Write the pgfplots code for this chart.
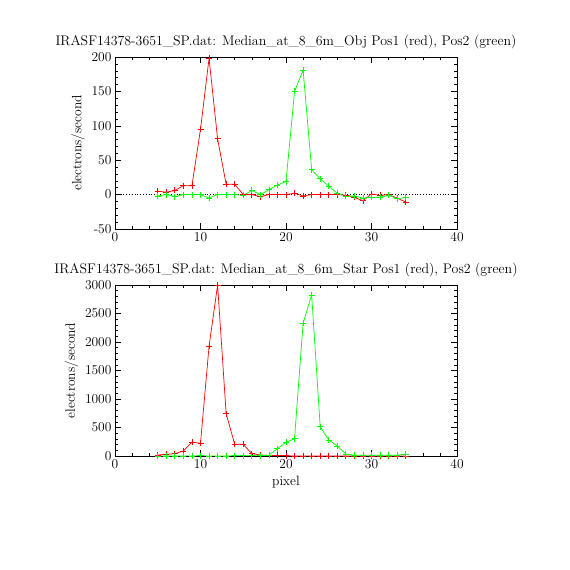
\documentclass[border=0pt]{standalone}
\usepackage{pgfplots}
\pgfplotsset{compat=1.18}
\definecolor{pr}{RGB}{255,0,0}
\definecolor{pg}{RGB}{0,255,0}
\pgfplotsset{
  idl/.style={
    scale only axis, width=342pt, anchor=south west,
    xmin=0, xmax=40, xtick={0,10,20,30,40}, minor x tick num=4,
    tick align=inside, major tick length=6pt, minor tick length=3pt,
    tick style={black, line width=0.5pt},
    axis line style={line width=0.6pt},
    tick label style={font=\fontsize{13.5}{14}\selectfont},
    label style={font=\fontsize{13.5}{14}\selectfont},
    title style={font=\fontsize{13.9}{15}\selectfont, yshift=-2pt},
    /pgf/number format/assume math mode=true,
    /pgf/number format/1000 sep={},
    scaled y ticks=false,
  },
  dat/.style={color=#1, line width=0.7pt, mark=+, mark size=3pt, mark options={solid, color=#1, line width=0.8pt}},
}
\begin{document}
\begin{tikzpicture}[x=1pt,y=1pt]
\useasboundingbox[fill=white] (0,0) rectangle (570,570);
\begin{axis}[idl, at={(115pt,341pt)}, height=172pt,
  ymin=-50, ymax=200, ytick={-50,0,50,100,150,200}, minor y tick num=4,
  ylabel={electrons/second},
  title={IRASF14378-3651\_SP.dat: Median\_at\_8\_6m\_Obj Pos1 (red), Pos2 (green)}]
\addplot[black, dotted, line width=0.8pt, mark=none] coordinates {(0,0) (40,0)};
\addplot[dat=pr] coordinates {
(5,5) (6,3.5) (7,6) (8,13) (9,13) (10,95) (11,198) (12,81) (13,15) (14,15)
(15,0) (16,0) (17,-3) (18,0) (19,0) (20,0) (21,2) (22,-2) (23,0) (24,0)
(25,0) (26,0) (27,-1) (28,-4) (29,-9) (30,1) (31,-1) (32,0) (33,-5) (34,-11)};
\addplot[dat=pg] coordinates {
(5,-2) (6,0) (7,-3) (8,0) (9,0) (10,0) (11,-5) (12,0) (13,0) (14,0)
(15,-1) (16,6) (17,0) (18,7) (19,14) (20,19) (21,150) (22,181) (23,36) (24,23)
(25,12) (26,2) (27,-2) (28,-2) (29,-5) (30,-4) (31,-4) (32,-1) (33,-6) (34,-4)};
\end{axis}
\begin{axis}[idl, at={(115pt,114pt)}, height=171pt,
  ymin=0, ymax=3000, ytick={0,500,1000,1500,2000,2500,3000}, minor y tick num=4,
  ylabel={electrons/second}, xlabel={pixel},
  title={IRASF14378-3651\_SP.dat: Median\_at\_8\_6m\_Star Pos1 (red), Pos2 (green)}]
\addplot[black, dotted, line width=0.8pt, mark=none] coordinates {(0,0) (40,0)};
\addplot[dat=pr] coordinates {
(5,18) (6,30) (7,40) (8,88) (9,245) (10,222) (11,1925) (12,3000) (13,743) (14,205)
(15,205) (16,40) (17,18) (18,10) (19,10) (20,5) (21,0) (22,0) (23,0) (24,0)
(25,0) (26,0) (27,0) (28,0) (29,0) (30,0) (31,0) (32,0) (33,0) (34,0)};
\addplot[dat=pg] coordinates {
(5,0) (6,0) (7,0) (8,0) (9,0) (10,5) (11,0) (12,0) (13,0) (14,5)
(15,5) (16,5) (17,5) (18,15) (19,130) (20,240) (21,305) (22,2330) (23,2825) (24,515)
(25,280) (26,175) (27,35) (28,15) (29,15) (30,15) (31,15) (32,15) (33,15) (34,35)};
\end{axis}
\end{tikzpicture}
\end{document}
